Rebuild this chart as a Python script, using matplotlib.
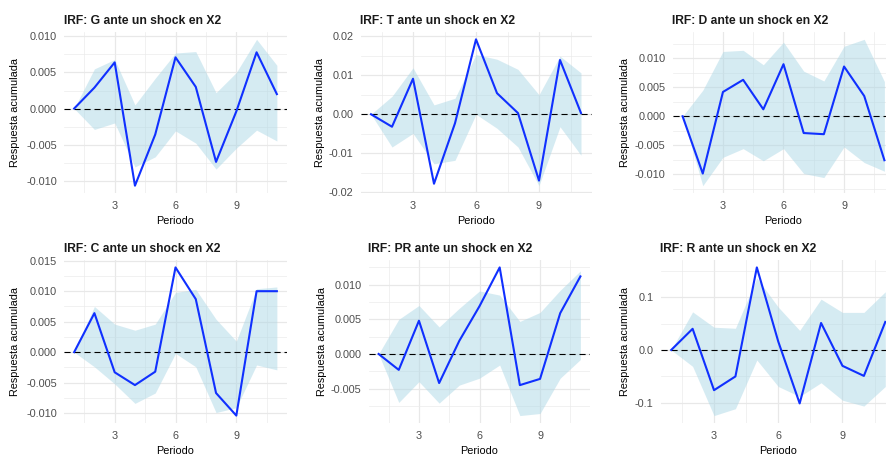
import matplotlib.pyplot as plt
from matplotlib.ticker import MultipleLocator, FormatStrFormatter

plt.rcParams["font.family"] = ["Liberation Sans", "DejaVu Sans"]
plt.rcParams["axes.unicode_minus"] = False

periodo = list(range(1, 12))

# respuesta acumulada y bandas de confianza por variable
g_irf = [0.0, 0.0029, 0.0064, -0.0107, -0.0036, 0.0071, 0.0030, -0.0074, -0.0004, 0.0078, 0.0020]
g_low = [0.0, -0.0029, -0.0020, -0.0081, -0.0067, -0.0031, -0.0048, -0.0084, -0.0055, -0.0030, -0.0045]
g_upp = [0.0, 0.0055, 0.0068, 0.0005, 0.0042, 0.0077, 0.0079, 0.0022, 0.0050, 0.0096, 0.0060]

t_irf = [0.0, -0.0032, 0.0091, -0.0178, -0.0023, 0.0192, 0.0054, 0.0003, -0.0170, 0.0139, 0.0003]
t_low = [0.0, -0.0084, -0.0049, -0.0127, -0.0118, 0.0000, -0.0036, -0.0084, -0.0183, -0.0032, -0.0105]
t_upp = [0.0, 0.0046, 0.0119, 0.0024, 0.0041, 0.0153, 0.0141, 0.0115, 0.0050, 0.0149, 0.0106]

d_irf = [0.0, -0.0099, 0.0042, 0.0063, 0.0012, 0.0090, -0.0029, -0.0031, 0.0086, 0.0035, -0.0076]
d_low = [0.0, -0.0120, -0.0071, -0.0056, -0.0077, -0.0056, -0.0099, -0.0106, -0.0053, -0.0080, -0.0095]
d_upp = [0.0, 0.0045, 0.0112, 0.0114, 0.0089, 0.0128, 0.0078, 0.0061, 0.0121, 0.0133, 0.0060]

c_irf = [0.0, 0.0064, -0.0033, -0.0054, -0.0032, 0.0139, 0.0087, -0.0067, -0.0104, 0.0100, 0.0100]
c_low = [0.0, -0.0024, -0.0052, -0.0084, -0.0067, -0.0002, -0.0024, -0.0099, -0.0091, -0.0021, -0.0029]
c_upp = [0.0, 0.0075, 0.0046, 0.0036, 0.0046, 0.0098, 0.0103, 0.0054, 0.0018, 0.0104, 0.0107]

pr_irf = [0.0, -0.0023, 0.0048, -0.0042, 0.0019, 0.0069, 0.0125, -0.0045, -0.0036, 0.0059, 0.0112]
pr_low = [0.0, -0.0070, -0.0040, -0.0071, -0.0045, -0.0035, -0.0016, -0.0089, -0.0086, -0.0035, -0.0008]
pr_upp = [0.0, 0.0050, 0.0070, 0.0039, 0.0066, 0.0091, 0.0085, 0.0047, 0.0060, 0.0092, 0.0120]

r_irf = [0.0, 0.040, -0.076, -0.050, 0.156, 0.016, -0.101, 0.051, -0.030, -0.049, 0.053]
r_low = [0.0, -0.031, -0.124, -0.111, -0.019, -0.069, -0.088, -0.062, -0.095, -0.106, -0.069]
r_upp = [0.0, 0.072, 0.043, 0.041, 0.136, 0.081, 0.037, 0.096, 0.071, 0.071, 0.110]

W, H = 886, 455
fig = plt.figure(figsize=(W / 100, H / 100), dpi=100)

TXT = 7.8


def fx(x):
    return x / W


def fy(y):
    return 1 - y / H


def panel(box, ylab_x, var, irf, low, upp, step, fmt):
    left, top, right, bottom = box
    ax = fig.add_axes([fx(left), fy(bottom), (right - left) / W, (bottom - top) / H])

    ax.fill_between(periodo, low, upp, color="lightblue", alpha=0.5, lw=0, zorder=2)
    ax.axhline(0, color="black", lw=0.8, dashes=(5.5, 3.5), zorder=3)
    ax.plot(periodo, irf, color="#1030ff", lw=1.5, zorder=4)

    vals = irf + low + upp + [0.0]
    lo, hi = min(vals), max(vals)
    span = hi - lo
    ax.set_ylim(lo - 0.05 * span, hi + 0.05 * span)
    ax.set_xlim(0.5, 11.5)

    ax.xaxis.set_major_locator(MultipleLocator(3))
    ax.xaxis.set_minor_locator(MultipleLocator(1.5))
    ax.yaxis.set_major_locator(MultipleLocator(step))
    ax.yaxis.set_minor_locator(MultipleLocator(step / 2))
    ax.yaxis.set_major_formatter(FormatStrFormatter(fmt))

    ax.grid(which="major", color="#E8E8E8", lw=0.9)
    ax.grid(which="minor", color="#EBEBEB", lw=0.5)
    ax.set_axisbelow(True)
    for s in ax.spines.values():
        s.set_visible(False)
    ax.tick_params(which="both", length=0)
    ax.tick_params(axis="x", pad=6, labelsize=TXT, labelcolor="#4D4D4D")
    ax.tick_params(axis="y", pad=5, labelsize=TXT, labelcolor="#4D4D4D")

    fig.text(fx(left), fy(top - 8), f"IRF: {var} ante un shock en X2",
             fontsize=8.7, fontweight="bold", color="#1A1A1A",
             ha="left", va="baseline")
    fig.text(fx((left + right) / 2), fy(bottom + 31), "Periodo",
             fontsize=TXT, color="black", ha="center", va="baseline")
    fig.text(fx(ylab_x), fy((top + bottom) / 2), "Respuesta acumulada",
             fontsize=TXT, color="black", rotation=90, ha="center", va="center")
    return ax


row1 = (32, 193)
row2 = (260, 423)

panel((64, row1[0], 287, row1[1]), 15, "G", g_irf, g_low, g_upp, 0.005, "%.3f")
panel((360.5, row1[0], 591.5, row1[1]), 320, "T", t_irf, t_low, t_upp, 0.01, "%.2f")
panel((672.5, row1[0], 894.5, row1[1]), 625, "D", d_irf, d_low, d_upp, 0.005, "%.3f")
panel((64, row2[0], 287, row2[1]), 15, "C", c_irf, c_low, c_upp, 0.005, "%.3f")
panel((368.5, row2[0], 590.5, row2[1]), 322, "PR", pr_irf, pr_low, pr_upp, 0.005, "%.3f")
panel((660.5, row2[0], 896, row2[1]), 625, "R", r_irf, r_low, r_upp, 0.1, "%.1f")

fig.savefig("out.png", dpi=100)
